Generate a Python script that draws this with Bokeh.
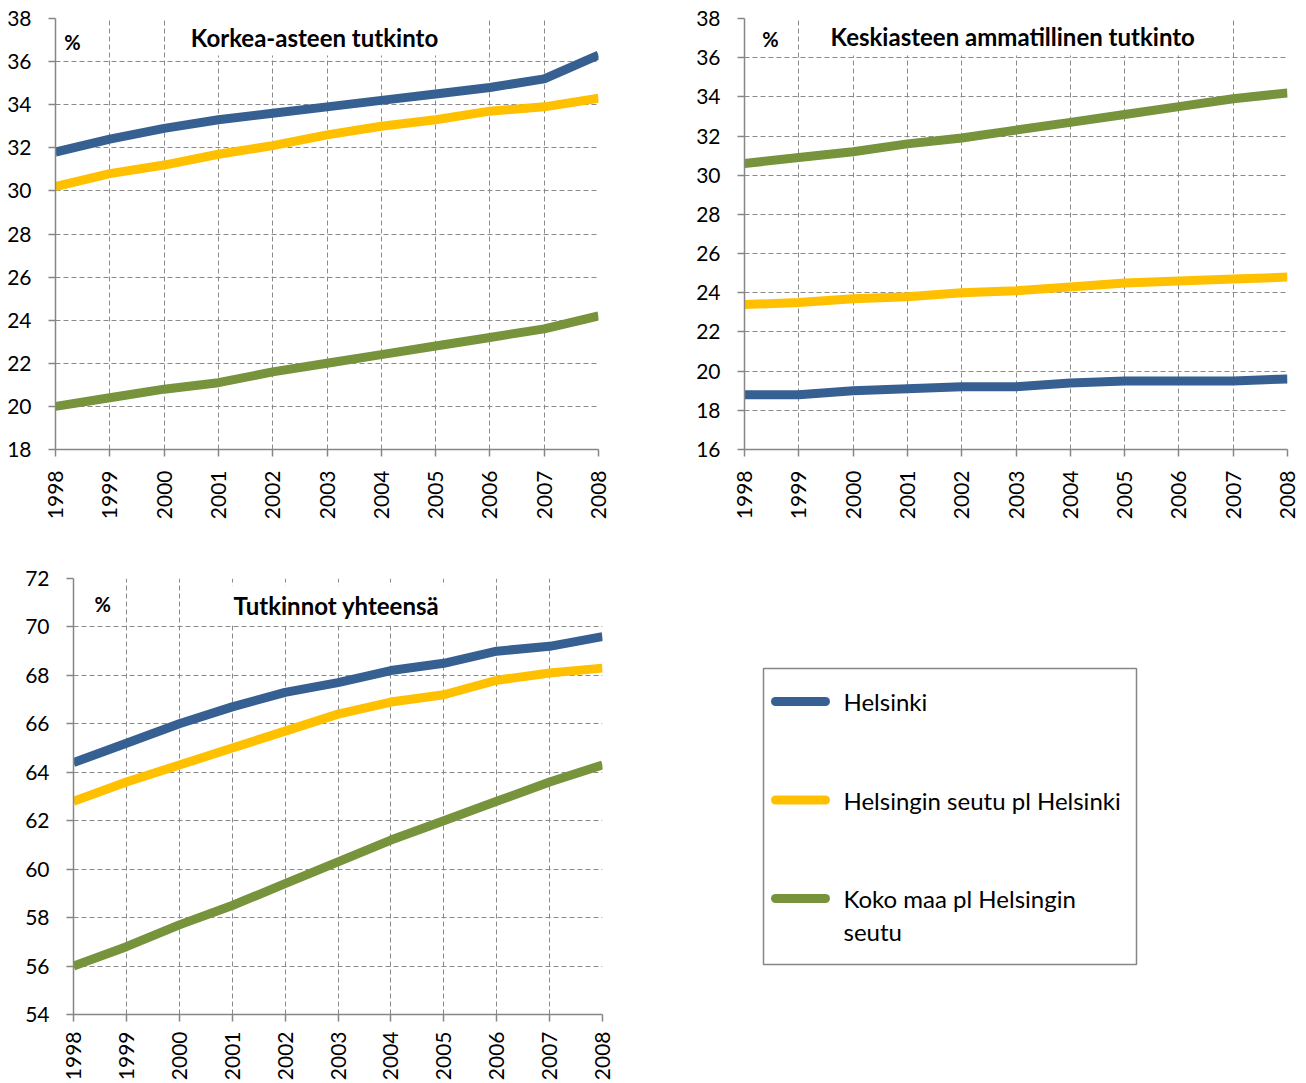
from bokeh.plotting import figure
from bokeh.layouts import column, row
from bokeh.models import Range1d, FixedTicker, Label, BoxAnnotation, ColumnDataSource
from bokeh.embed import file_html
from bokeh.resources import INLINE
from bokeh.core.properties import value
import math

years = [1998, 1999, 2000, 2001, 2002, 2003, 2004, 2005, 2006, 2007, 2008]
series_names = ["Helsinki", "Helsingin seutu pl Helsinki", "Koko maa pl Helsingin seutu"]
legend_labels = ["Helsinki", "Helsingin seutu pl Helsinki", "Koko maa pl Helsingin\nseutu"]
colors = ["#376092", "#FFC000", "#77933C"]

# Korkea-asteen tutkinto
korkea_helsinki = [31.8, 32.4, 32.9, 33.3, 33.6, 33.9, 34.2, 34.5, 34.8, 35.2, 36.3]
korkea_seutu = [30.2, 30.8, 31.2, 31.7, 32.1, 32.6, 33.0, 33.3, 33.7, 33.9, 34.3]
korkea_koko = [20.0, 20.4, 20.8, 21.1, 21.6, 22.0, 22.4, 22.8, 23.2, 23.6, 24.2]

# Keskiasteen ammatillinen tutkinto
keski_helsinki = [18.8, 18.8, 19.0, 19.1, 19.2, 19.2, 19.4, 19.5, 19.5, 19.5, 19.6]
keski_seutu = [23.4, 23.5, 23.7, 23.8, 24.0, 24.1, 24.3, 24.5, 24.6, 24.7, 24.8]
keski_koko = [30.6, 30.9, 31.2, 31.6, 31.9, 32.3, 32.7, 33.1, 33.5, 33.9, 34.2]

# Tutkinnot yhteensä
yht_helsinki = [64.4, 65.2, 66.0, 66.7, 67.3, 67.7, 68.2, 68.5, 69.0, 69.2, 69.6]
yht_seutu = [62.8, 63.6, 64.3, 65.0, 65.7, 66.4, 66.9, 67.2, 67.8, 68.1, 68.3]
yht_koko = [56.0, 56.8, 57.7, 58.5, 59.4, 60.3, 61.2, 62.0, 62.8, 63.6, 64.3]

titles = ["Korkea-asteen tutkinto", "Keskiasteen ammatillinen tutkinto", "Tutkinnot yhteensä"]
y_ticks_1 = list(range(18, 39, 2))
y_ticks_2 = list(range(16, 39, 2))
y_ticks_3 = list(range(54, 73, 2))

FONT = "Lato"
GRID = "#8a8a8a"
AXIS = "#868686"


def make_panel(width, height, borders, yticks, data, title, title_xy, pct_xy, box, xstand=14):
    left, right, top, bottom = borders
    p = figure(width=width, height=height, output_backend="svg", toolbar_location=None,
               x_range=Range1d(years[0], years[-1]), y_range=Range1d(yticks[0], yticks[-1]),
               min_border_left=left, min_border_right=right, min_border_top=top,
               min_border_bottom=bottom)
    p.outline_line_color = None
    p.background_fill_color = "white"
    p.border_fill_color = "white"
    p.xaxis.ticker = FixedTicker(ticks=years)
    p.yaxis.ticker = FixedTicker(ticks=yticks)
    for ax in (p.xaxis[0], p.yaxis[0]):
        ax.axis_line_color = AXIS
        ax.axis_line_width = 1.5
        ax.major_tick_line_color = AXIS
        ax.major_tick_line_width = 1.5
        ax.major_tick_out = 7
        ax.major_tick_in = 0
        ax.minor_tick_line_color = None
        ax.major_label_text_font = FONT
        ax.major_label_text_font_size = "21px"
        ax.major_label_text_color = "black"
    p.yaxis.major_label_standoff = 17
    p.xaxis.major_label_standoff = xstand
    p.xaxis.major_label_orientation = math.pi / 2
    for g in (p.xgrid[0], p.ygrid[0]):
        g.grid_line_color = GRID
        g.grid_line_dash = "5 3"
        g.grid_line_width = 1
    for vals, c in zip(data, colors):
        p.line(years, vals, line_color=c, line_width=9, line_cap="butt", line_join="round")
    p.add_layout(BoxAnnotation(left=box[0], right=box[1], bottom=box[2], top=box[3],
                               fill_color="white", fill_alpha=1.0, line_color=None))
    p.add_layout(Label(x=title_xy[0], y=title_xy[1], text=title, text_font=FONT,
                       text_font_size="24px", text_font_style="bold", text_align="center",
                       text_baseline="middle", text_color="black"))
    p.add_layout(Label(x=pct_xy[0], y=pct_xy[1], text="%", text_font=FONT,
                       text_font_size="20px", text_font_style="bold", text_align="center",
                       text_baseline="middle", text_color="black"))
    return p


p1 = make_panel(658, 548, (55, 60, 18, 99), y_ticks_1,
                [korkea_helsinki, korkea_seutu, korkea_koko], titles[0],
                (2002.77, 37.12), (1998.31, 36.93), (2000.23, 2005.31, 36.28, 38.5))
p2 = make_panel(646, 548, (86, 17, 18, 99), y_ticks_2,
                [keski_helsinki, keski_seutu, keski_koko], titles[1],
                (2002.94, 37.06), (1998.48, 36.95), (1999.25, 2006.62, 36.11, 38.5))
p3 = make_panel(658, 535, (73, 56, 30, 69), y_ticks_3,
                [yht_helsinki, yht_seutu, yht_koko], titles[2],
                (2002.97, 70.88), (1998.55, 70.93), (2000.06, 2005.90, 70.06, 71.71),
                xstand=10)

# Legend panel (frame coordinates = page pixels)
p4 = figure(width=646, height=535, output_backend="svg", toolbar_location=None,
            x_range=Range1d(658, 1304), y_range=Range1d(1014, 578),
            x_axis_location=None, y_axis_location=None,
            min_border_left=0, min_border_right=0, min_border_top=30, min_border_bottom=69)
p4.outline_line_color = None
p4.xgrid.visible = False
p4.ygrid.visible = False
p4.quad(left=[763], right=[1136], top=[668], bottom=[964], fill_color=None,
        line_color=AXIS, line_width=1.5)
item_y = [701 + 98.5 * i for i in range(len(legend_labels))]
label_y = [y + 16.5 * lab.count("\n") for y, lab in zip(item_y, legend_labels)]
src = ColumnDataSource(dict(y=item_y, ly=label_y, label=legend_labels, color=colors,
                            x0=[775] * 3, x1=[825] * 3, xt=[843] * 3))
p4.segment(x0="x0", x1="x1", y0="y", y1="y", line_color="color", line_width=9,
           line_cap="round", source=src)
p4.text(x="xt", y="ly", text="label", text_font=value(FONT), text_font_size="24px",
        text_baseline="middle", text_align="left", text_color="black",
        text_line_height=1.15, source=src)

layout = column(row(p1, p2), row(p3, p4))
open("out.html", "w").write(file_html(layout, INLINE))
